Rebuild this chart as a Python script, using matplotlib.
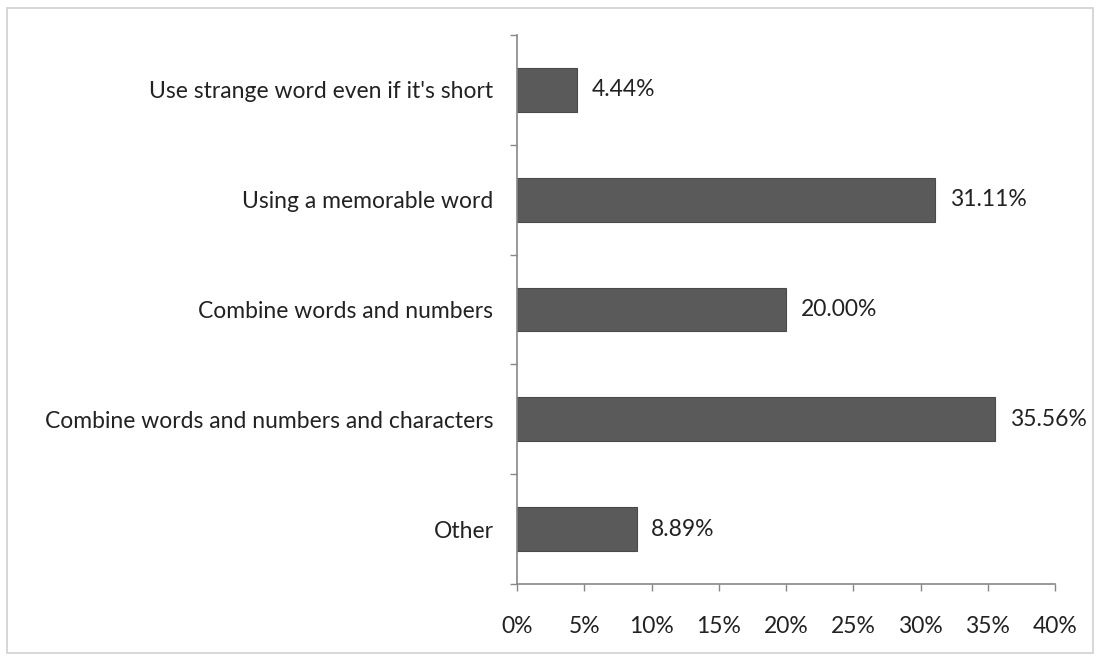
import numpy as np
import matplotlib.pyplot as plt
from matplotlib.patches import Rectangle
from matplotlib.ticker import FuncFormatter

categories = ["Use strange word even if it's short",
              "Using a memorable word",
              "Combine words and numbers",
              "Combine words and numbers and characters",
              "Other"]
values = [4.44, 31.11, 20.00, 35.56, 8.89]
xticks = [0, 5, 10, 15, 20, 25, 30, 35, 40]

plt.rcParams['font.family'] = ['Lato', 'DejaVu Sans']
plt.rcParams['font.size'] = 16.5

fig = plt.figure(figsize=(11.01, 6.61), dpi=100)
fig.patches.append(Rectangle((7 / 1101, 8 / 661), 1 - 15 / 1101, 1 - 16 / 661,
                             transform=fig.transFigure, fill=False,
                             edgecolor="#d0d0d0", linewidth=1.2))
ax = fig.add_axes([517 / 1101, 1 - 584 / 661, (1055 - 517) / 1101, (584 - 35) / 661])

y = np.arange(len(categories))
ax.barh(y, values, height=0.4, color="#5a5a5a", edgecolor="#4a4a4a", linewidth=0.8)
for yi, v in zip(y, values):
    ax.text(v + 1.1, yi, f"{v:.2f}%", va="center", ha="left", color="#222222")

ax.set_ylim(len(categories) - 0.5, -0.5)
ax.set_xlim(0, 40)
ax.set_yticks(y)
ax.set_yticklabels(categories, color="#222222")
ax.set_yticks(np.arange(-0.5, len(categories), 1), minor=True)
ax.tick_params(axis="y", which="major", length=0, pad=17)
ax.tick_params(axis="y", which="minor", length=5, color="#888888", width=1)
ax.set_xticks(xticks)
ax.xaxis.set_major_formatter(FuncFormatter(lambda x, p: f"{x:.0f}%"))
ax.tick_params(axis="x", length=5, color="#888888", width=1, pad=18, labelcolor="#222222")

for s in ["top", "right"]:
    ax.spines[s].set_visible(False)
for s in ["left", "bottom"]:
    ax.spines[s].set_color("#888888")
    ax.spines[s].set_linewidth(1.2)

fig.savefig("out.png", dpi=100)
